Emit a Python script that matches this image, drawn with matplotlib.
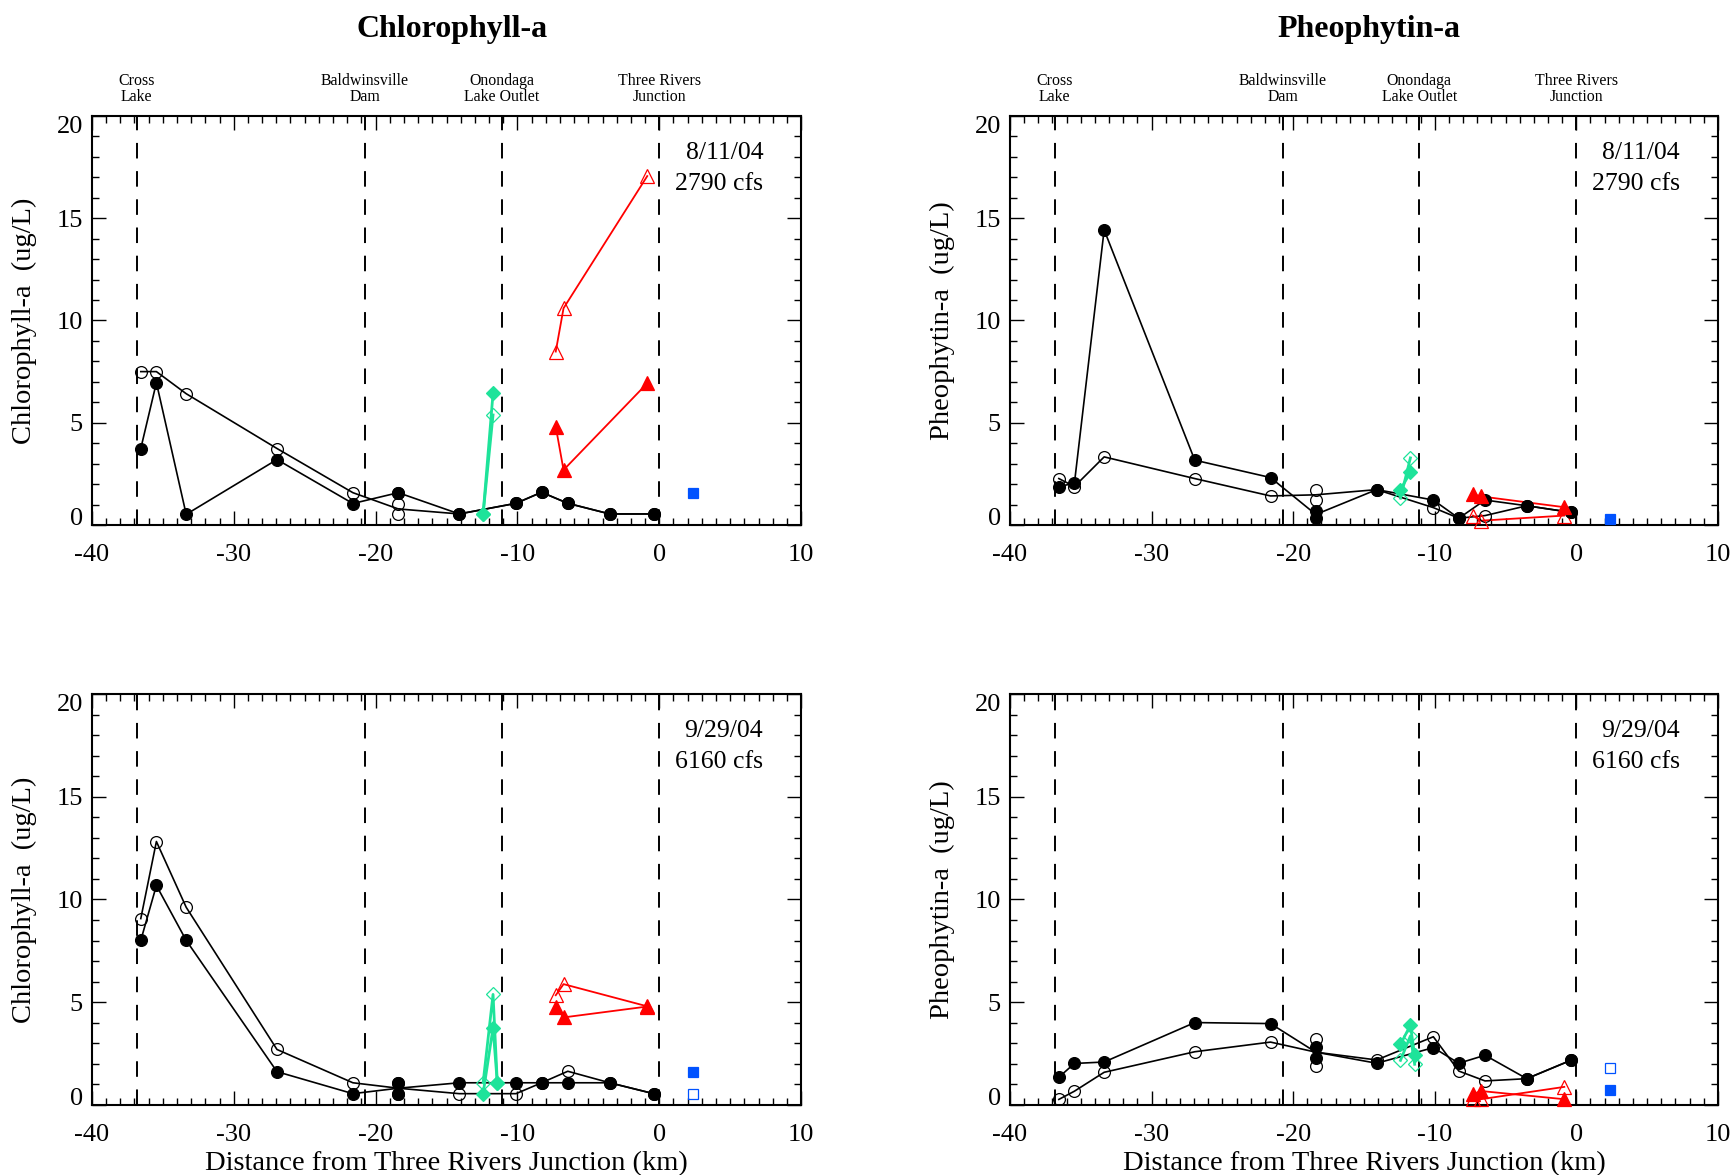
import numpy as np
import pandas as pd
import matplotlib
matplotlib.use('Agg')
from matplotlib import pyplot as plt
from matplotlib.ticker import MultipleLocator

plt.rcParams['font.family'] = 'Liberation Serif'
plt.rcParams['axes.unicode_minus'] = False

# river km of the main stem stations (two samples taken at -18.4)
station_km = [-36.55, -35.45, -33.35, -26.95, -21.6, -18.4, -18.4,
              -14.1, -10.1, -8.3, -6.45, -3.5, -0.4]
outlet_km = [-12.42, -11.72, -11.42]
seneca_km = [-7.3, -6.75, -0.85]
oneida_km = [2.4]

landmark_km = [-36.85, -20.75, -11.1, 0.0]
landmark_names = ['Cross\nLake', 'Baldwinsville\nDam',
                  'Onondaga\nLake Outlet', 'Three Rivers\nJunction']

# Chlorophyll-a, 8/11/04
chl_aug_solid = [3.74, 6.96, 0.52, 3.2, 1.05, 1.58, 1.58, 0.54, 1.06, 1.6, 1.06, 0.54, 0.54]
chl_aug_hollow = [7.5, 7.5, 6.42, 3.74, 1.58, 1.05, 0.52, 0.54, 1.06, 1.6, 1.06, 0.54, 0.54]
chl_aug_outlet_solid = [0.54, 6.44]
chl_aug_outlet_hollow = [0.54, 5.38]
chl_aug_seneca_solid = [4.81, 2.69, 6.93]
chl_aug_seneca_hollow = [8.48, 10.6, 17.06]
chl_aug_oneida_solid = [1.58]
chl_aug_oneida_hollow = []

# Chlorophyll-a, 9/29/04
chl_sep_solid = [8.01, 10.68, 8.01, 1.62, 0.55, 1.08, 0.55, 1.08, 1.08, 1.08, 1.08, 1.08, 0.55]
chl_sep_hollow = [9.07, 12.82, 9.62, 2.7, 1.08, 1.08, 0.55, 0.55, 0.55, 1.08, 1.64, 1.08, 0.55]
chl_sep_outlet_solid = [0.55, 3.76, 1.08]
chl_sep_outlet_hollow = [1.08, 5.38, 1.08]
chl_sep_seneca_solid = [4.79, 4.26, 4.79]
chl_sep_seneca_hollow = [5.34, 5.88, 4.8]
chl_sep_oneida_solid = [1.62]
chl_sep_oneida_hollow = [0.55]

# Pheophytin-a, 8/11/04
pheo_aug_solid = [1.88, 2.04, 14.43, 3.17, 2.32, 0.70, 0.33, 1.73, 1.22, 0.33, 1.22, 0.94, 0.62]
pheo_aug_hollow = [2.27, 1.88, 3.33, 2.27, 1.42, 1.73, 1.22, 1.73, 0.85, 0.33, 0.46, 0.94, 0.62]
pheo_aug_outlet_solid = [1.73, 2.58]
pheo_aug_outlet_hollow = [1.31, 3.28]
pheo_aug_seneca_solid = [1.5, 1.4, 0.87]
pheo_aug_seneca_hollow = [0.46, 0.21, 0.46]
pheo_aug_oneida_solid = [0.29]
pheo_aug_oneida_hollow = []

# Pheophytin-a, 9/29/04
pheo_sep_solid = [1.35, 2.02, 2.09, 4.01, 3.96, 2.84, 2.3, 2.03, 2.79, 2.03, 2.42, 1.28, 2.17]
pheo_sep_hollow = [0.27, 0.67, 1.59, 2.59, 3.06, 3.22, 1.92, 2.19, 3.32, 1.65, 1.17, 1.28, 2.17]
pheo_sep_outlet_solid = [2.95, 3.88, 2.42]
pheo_sep_outlet_hollow = [2.17, 3.36, 1.98]
pheo_sep_seneca_solid = [0.52, 0.68, 0.28]
pheo_sep_seneca_hollow = [0.28, 0.28, 0.88]
pheo_sep_oneida_solid = [0.75]
pheo_sep_oneida_hollow = [1.82]

GREEN = '#1EE39A'
RED = '#FF0000'
BLUE = '#0052FF'


def main_stem(ax, vals, solid):
    # line runs through the station means, markers show every sample
    df = pd.DataFrame({'km': station_km, 'v': vals})
    mean = df.groupby('km', sort=True)['v'].mean()
    ax.plot(mean.index, mean.values, color='k', lw=1.2, zorder=3)
    ax.plot(station_km, vals, ls='none', marker='o', ms=8.5,
            mfc='k' if solid else 'none', mec='k', mew=0.9,
            zorder=5 if solid else 4, clip_on=False)


def branch(ax, km, vals, color, marker, ms, solid, lw):
    if len(vals) == 0:
        return
    x = km[:len(vals)]
    if lw:
        ax.plot(x, vals, color=color, lw=lw, zorder=3)
    ax.plot(x, vals, ls='none', marker=marker, ms=ms,
            mfc=color if solid else 'none', mec=color, mew=0.9,
            zorder=5 if solid else 4, clip_on=False)


def draw_panel(ax, data, date, flow, ylabel, show_sites, show_xlabel):
    main_s, main_h, out_s, out_h, sen_s, sen_h, one_s, one_h = data
    ax.set_xlim(-40, 10)
    ax.set_ylim(0, 20)

    for km in landmark_km:
        ax.axvline(km, color='k', lw=1.4, dashes=(8, 6.5), zorder=1)

    main_stem(ax, main_h, False)
    main_stem(ax, main_s, True)
    branch(ax, outlet_km, out_h, GREEN, 'D', 7, False, 2.0)
    branch(ax, outlet_km, out_s, GREEN, 'D', 7, True, 2.0)
    branch(ax, seneca_km, sen_h, RED, '^', 9.5, False, 1.3)
    branch(ax, seneca_km, sen_s, RED, '^', 9.5, True, 1.3)
    branch(ax, oneida_km, one_h, BLUE, 's', 7.5, False, 0)
    branch(ax, oneida_km, one_s, BLUE, 's', 7.5, True, 0)

    ax.text(7.32, 17.9, date, ha='right', va='baseline', fontsize=18.5)
    ax.text(7.32, 16.4, flow, ha='right', va='baseline', fontsize=18.5)

    ax.xaxis.set_major_locator(MultipleLocator(10))
    ax.xaxis.set_minor_locator(MultipleLocator(1))
    ax.yaxis.set_major_locator(MultipleLocator(5))
    ax.yaxis.set_minor_locator(MultipleLocator(1))
    ax.tick_params(which='both', direction='in', top=True, right=True,
                   width=1.0, labelsize=19)
    ax.tick_params(which='major', length=10)
    ax.tick_params(which='minor', length=5)
    ax.tick_params(axis='x', pad=13.5)
    ax.tick_params(axis='y', pad=6.5)
    for sp in ax.spines.values():
        sp.set_linewidth(1.5)

    ax.set_ylabel(ylabel, fontsize=20.5)
    ax.yaxis.set_label_coords(-0.078, 0.5)

    if show_sites:
        trans = ax.get_xaxis_transform()
        for km, name in zip(landmark_km, landmark_names):
            ax.text(km, 1.066, name, transform=trans, ha='center',
                    va='center', fontsize=11.4, linespacing=0.95)
    if show_xlabel:
        ax.set_xlabel('Distance from Three Rivers Junction (km)', fontsize=20.5)
        ax.xaxis.set_label_coords(0.5, -0.112)


fig = plt.figure(figsize=(17.33, 11.75), dpi=100)
ax_tl = fig.add_axes([0.0530, 0.5532, 0.4093, 0.3481])
ax_tr = fig.add_axes([0.5828, 0.5532, 0.4085, 0.3481])
ax_bl = fig.add_axes([0.0530, 0.0596, 0.4093, 0.3498])
ax_br = fig.add_axes([0.5828, 0.0596, 0.4085, 0.3498])

draw_panel(ax_tl, (chl_aug_solid, chl_aug_hollow, chl_aug_outlet_solid,
                   chl_aug_outlet_hollow, chl_aug_seneca_solid,
                   chl_aug_seneca_hollow, chl_aug_oneida_solid,
                   chl_aug_oneida_hollow),
           '8/11/04', '2790 cfs', 'Chlorophyll-a  (ug/L)', True, False)
draw_panel(ax_bl, (chl_sep_solid, chl_sep_hollow, chl_sep_outlet_solid,
                   chl_sep_outlet_hollow, chl_sep_seneca_solid,
                   chl_sep_seneca_hollow, chl_sep_oneida_solid,
                   chl_sep_oneida_hollow),
           '9/29/04', '6160 cfs', 'Chlorophyll-a  (ug/L)', False, True)
draw_panel(ax_tr, (pheo_aug_solid, pheo_aug_hollow, pheo_aug_outlet_solid,
                   pheo_aug_outlet_hollow, pheo_aug_seneca_solid,
                   pheo_aug_seneca_hollow, pheo_aug_oneida_solid,
                   pheo_aug_oneida_hollow),
           '8/11/04', '2790 cfs', 'Pheophytin-a  (ug/L)', True, False)
draw_panel(ax_br, (pheo_sep_solid, pheo_sep_hollow, pheo_sep_outlet_solid,
                   pheo_sep_outlet_hollow, pheo_sep_seneca_solid,
                   pheo_sep_seneca_hollow, pheo_sep_oneida_solid,
                   pheo_sep_oneida_hollow),
           '9/29/04', '6160 cfs', 'Pheophytin-a  (ug/L)', False, True)

fig.text(452 / 1733, 1 - 36.7 / 1175, 'Chlorophyll-a', ha='center',
         va='baseline', fontsize=23, fontweight='bold')
fig.text(1369 / 1733, 1 - 36.7 / 1175, 'Pheophytin-a', ha='center',
         va='baseline', fontsize=23, fontweight='bold')

# the end labels of the y axis sit inside the frame; the ticks only
# exist in their final form after a first draw
fig.canvas.draw()
for ax in (ax_tl, ax_tr, ax_bl, ax_br):
    for tick in ax.yaxis.get_major_ticks():
        loc = tick.get_loc()
        if np.isclose(loc, 0):
            tick.label1.set_verticalalignment('baseline')
        elif np.isclose(loc, 20):
            tick.label1.set_verticalalignment('top')
        else:
            tick.label1.set_verticalalignment('center_baseline')

fig.savefig('out.png', dpi=100)
